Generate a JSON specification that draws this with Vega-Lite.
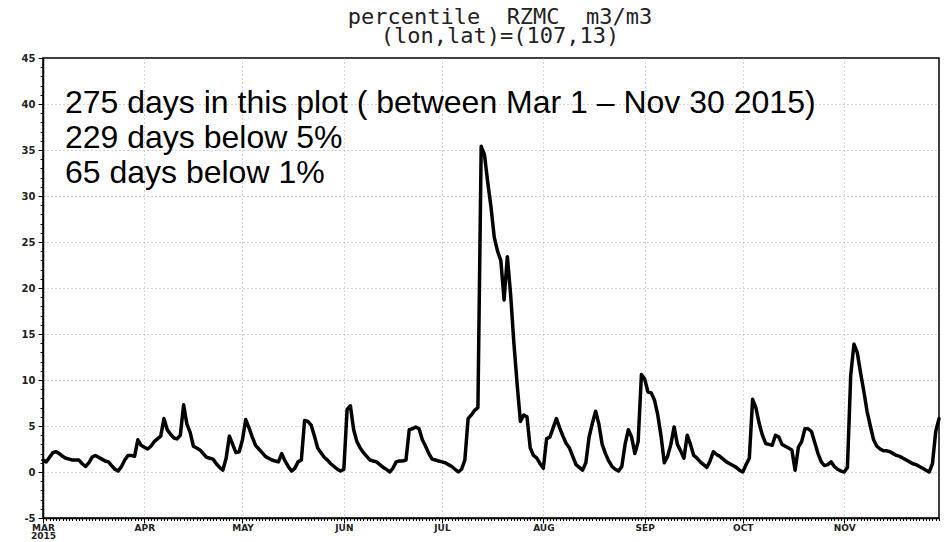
{
  "$schema": "https://vega.github.io/schema/vega-lite/v6.json",
  "width": 896,
  "height": 460,
  "autosize": {"type": "none"},
  "padding": {"left": 43, "top": 58, "right": 5, "bottom": 24},
  "background": "white",
  "config": {"view": {"stroke": "black", "strokeWidth": 1.5}},
  "title": {
    "text": ["percentile\u00a0\u00a0RZMC\u00a0\u00a0m3/m3", "(lon,lat)=(107,13)"],
    "font": "DejaVu Sans Mono",
    "fontSize": 22,
    "fontWeight": "normal",
    "lineHeight": 19,
    "anchor": "middle",
    "dx": 9,
    "offset": 5,
    "color": "#222"
  },
  "data": {
    "values": [
      {"date": "2015-03-01", "v": 1.3}, {"date": "2015-03-02", "v": 1.1}, {"date": "2015-03-03", "v": 1.6}, {"date": "2015-03-04", "v": 2.1},
      {"date": "2015-03-05", "v": 2.2}, {"date": "2015-03-06", "v": 2.0}, {"date": "2015-03-07", "v": 1.7}, {"date": "2015-03-08", "v": 1.5},
      {"date": "2015-03-09", "v": 1.4}, {"date": "2015-03-10", "v": 1.3}, {"date": "2015-03-11", "v": 1.3}, {"date": "2015-03-12", "v": 1.3},
      {"date": "2015-03-13", "v": 0.9}, {"date": "2015-03-14", "v": 0.6}, {"date": "2015-03-15", "v": 1.0}, {"date": "2015-03-16", "v": 1.6},
      {"date": "2015-03-17", "v": 1.8}, {"date": "2015-03-18", "v": 1.6}, {"date": "2015-03-19", "v": 1.4}, {"date": "2015-03-20", "v": 1.2},
      {"date": "2015-03-21", "v": 1.1}, {"date": "2015-03-22", "v": 0.7}, {"date": "2015-03-23", "v": 0.3}, {"date": "2015-03-24", "v": 0.1},
      {"date": "2015-03-25", "v": 0.6}, {"date": "2015-03-26", "v": 1.3}, {"date": "2015-03-27", "v": 1.8}, {"date": "2015-03-28", "v": 1.8},
      {"date": "2015-03-29", "v": 1.7}, {"date": "2015-03-30", "v": 3.5}, {"date": "2015-03-31", "v": 2.9},
      {"date": "2015-04-01", "v": 2.7}, {"date": "2015-04-02", "v": 2.5}, {"date": "2015-04-03", "v": 2.8}, {"date": "2015-04-04", "v": 3.3},
      {"date": "2015-04-05", "v": 3.6}, {"date": "2015-04-06", "v": 3.9}, {"date": "2015-04-07", "v": 5.8}, {"date": "2015-04-08", "v": 4.6},
      {"date": "2015-04-09", "v": 4.1}, {"date": "2015-04-10", "v": 3.7}, {"date": "2015-04-11", "v": 3.6}, {"date": "2015-04-12", "v": 4.0},
      {"date": "2015-04-13", "v": 7.3}, {"date": "2015-04-14", "v": 5.2}, {"date": "2015-04-15", "v": 4.3}, {"date": "2015-04-16", "v": 2.8},
      {"date": "2015-04-17", "v": 2.6}, {"date": "2015-04-18", "v": 2.4}, {"date": "2015-04-19", "v": 2.0}, {"date": "2015-04-20", "v": 1.6},
      {"date": "2015-04-21", "v": 1.5}, {"date": "2015-04-22", "v": 1.4}, {"date": "2015-04-23", "v": 0.9}, {"date": "2015-04-24", "v": 0.5},
      {"date": "2015-04-25", "v": 0.2}, {"date": "2015-04-26", "v": 1.5}, {"date": "2015-04-27", "v": 3.9}, {"date": "2015-04-28", "v": 3.0},
      {"date": "2015-04-29", "v": 2.1}, {"date": "2015-04-30", "v": 2.2},
      {"date": "2015-05-01", "v": 3.5}, {"date": "2015-05-02", "v": 5.7}, {"date": "2015-05-03", "v": 4.8}, {"date": "2015-05-04", "v": 3.8},
      {"date": "2015-05-05", "v": 2.9}, {"date": "2015-05-06", "v": 2.5}, {"date": "2015-05-07", "v": 2.1}, {"date": "2015-05-08", "v": 1.7},
      {"date": "2015-05-09", "v": 1.5}, {"date": "2015-05-10", "v": 1.3}, {"date": "2015-05-11", "v": 1.2}, {"date": "2015-05-12", "v": 1.1},
      {"date": "2015-05-13", "v": 2.0}, {"date": "2015-05-14", "v": 1.2}, {"date": "2015-05-15", "v": 0.6}, {"date": "2015-05-16", "v": 0.1},
      {"date": "2015-05-17", "v": 0.4}, {"date": "2015-05-18", "v": 1.1}, {"date": "2015-05-19", "v": 1.3}, {"date": "2015-05-20", "v": 5.6},
      {"date": "2015-05-21", "v": 5.5}, {"date": "2015-05-22", "v": 5.1}, {"date": "2015-05-23", "v": 3.9}, {"date": "2015-05-24", "v": 2.6},
      {"date": "2015-05-25", "v": 2.1}, {"date": "2015-05-26", "v": 1.6}, {"date": "2015-05-27", "v": 1.3}, {"date": "2015-05-28", "v": 0.9},
      {"date": "2015-05-29", "v": 0.6}, {"date": "2015-05-30", "v": 0.3}, {"date": "2015-05-31", "v": 0.1},
      {"date": "2015-06-01", "v": 0.3}, {"date": "2015-06-02", "v": 6.8}, {"date": "2015-06-03", "v": 7.2}, {"date": "2015-06-04", "v": 4.6},
      {"date": "2015-06-05", "v": 3.3}, {"date": "2015-06-06", "v": 2.6}, {"date": "2015-06-07", "v": 2.1}, {"date": "2015-06-08", "v": 1.7},
      {"date": "2015-06-09", "v": 1.3}, {"date": "2015-06-10", "v": 1.2}, {"date": "2015-06-11", "v": 1.1}, {"date": "2015-06-12", "v": 0.8},
      {"date": "2015-06-13", "v": 0.5}, {"date": "2015-06-14", "v": 0.3}, {"date": "2015-06-15", "v": 0.0}, {"date": "2015-06-16", "v": 0.4},
      {"date": "2015-06-17", "v": 1.1}, {"date": "2015-06-18", "v": 1.2}, {"date": "2015-06-19", "v": 1.2}, {"date": "2015-06-20", "v": 1.3},
      {"date": "2015-06-21", "v": 4.6}, {"date": "2015-06-22", "v": 4.7}, {"date": "2015-06-23", "v": 4.9}, {"date": "2015-06-24", "v": 4.7},
      {"date": "2015-06-25", "v": 3.5}, {"date": "2015-06-26", "v": 2.8}, {"date": "2015-06-27", "v": 2.0}, {"date": "2015-06-28", "v": 1.4},
      {"date": "2015-06-29", "v": 1.3}, {"date": "2015-06-30", "v": 1.2},
      {"date": "2015-07-01", "v": 1.1}, {"date": "2015-07-02", "v": 1.0}, {"date": "2015-07-03", "v": 0.8}, {"date": "2015-07-04", "v": 0.6},
      {"date": "2015-07-05", "v": 0.3}, {"date": "2015-07-06", "v": 0.0}, {"date": "2015-07-07", "v": 0.3}, {"date": "2015-07-08", "v": 1.3},
      {"date": "2015-07-09", "v": 5.8}, {"date": "2015-07-10", "v": 6.2}, {"date": "2015-07-11", "v": 6.7}, {"date": "2015-07-12", "v": 7.0},
      {"date": "2015-07-13", "v": 35.4}, {"date": "2015-07-14", "v": 34.5}, {"date": "2015-07-15", "v": 31.5}, {"date": "2015-07-16", "v": 28.8},
      {"date": "2015-07-17", "v": 25.5}, {"date": "2015-07-18", "v": 24.0}, {"date": "2015-07-19", "v": 23.0}, {"date": "2015-07-20", "v": 18.7},
      {"date": "2015-07-21", "v": 23.4}, {"date": "2015-07-22", "v": 19.3}, {"date": "2015-07-23", "v": 14.0}, {"date": "2015-07-24", "v": 9.5},
      {"date": "2015-07-25", "v": 5.5}, {"date": "2015-07-26", "v": 6.2}, {"date": "2015-07-27", "v": 6.0}, {"date": "2015-07-28", "v": 2.6},
      {"date": "2015-07-29", "v": 1.8}, {"date": "2015-07-30", "v": 1.5}, {"date": "2015-07-31", "v": 0.9},
      {"date": "2015-08-01", "v": 0.4}, {"date": "2015-08-02", "v": 3.6}, {"date": "2015-08-03", "v": 3.8}, {"date": "2015-08-04", "v": 4.8},
      {"date": "2015-08-05", "v": 5.8}, {"date": "2015-08-06", "v": 4.8}, {"date": "2015-08-07", "v": 3.9}, {"date": "2015-08-08", "v": 3.1},
      {"date": "2015-08-09", "v": 2.6}, {"date": "2015-08-10", "v": 1.7}, {"date": "2015-08-11", "v": 0.8}, {"date": "2015-08-12", "v": 0.5},
      {"date": "2015-08-13", "v": 0.2}, {"date": "2015-08-14", "v": 1.0}, {"date": "2015-08-15", "v": 3.8}, {"date": "2015-08-16", "v": 5.3},
      {"date": "2015-08-17", "v": 6.6}, {"date": "2015-08-18", "v": 5.2}, {"date": "2015-08-19", "v": 3.0}, {"date": "2015-08-20", "v": 2.0},
      {"date": "2015-08-21", "v": 1.2}, {"date": "2015-08-22", "v": 0.6}, {"date": "2015-08-23", "v": 0.3}, {"date": "2015-08-24", "v": 0.1},
      {"date": "2015-08-25", "v": 0.6}, {"date": "2015-08-26", "v": 3.0}, {"date": "2015-08-27", "v": 4.6}, {"date": "2015-08-28", "v": 3.8},
      {"date": "2015-08-29", "v": 2.0}, {"date": "2015-08-30", "v": 3.3}, {"date": "2015-08-31", "v": 10.6},
      {"date": "2015-09-01", "v": 10.1}, {"date": "2015-09-02", "v": 8.7}, {"date": "2015-09-03", "v": 8.6}, {"date": "2015-09-04", "v": 7.8},
      {"date": "2015-09-05", "v": 6.2}, {"date": "2015-09-06", "v": 3.9}, {"date": "2015-09-07", "v": 1.0}, {"date": "2015-09-08", "v": 1.7},
      {"date": "2015-09-09", "v": 3.0}, {"date": "2015-09-10", "v": 4.9}, {"date": "2015-09-11", "v": 3.0}, {"date": "2015-09-12", "v": 2.3},
      {"date": "2015-09-13", "v": 1.5}, {"date": "2015-09-14", "v": 4.0}, {"date": "2015-09-15", "v": 3.0}, {"date": "2015-09-16", "v": 1.8},
      {"date": "2015-09-17", "v": 1.5}, {"date": "2015-09-18", "v": 1.1}, {"date": "2015-09-19", "v": 0.8}, {"date": "2015-09-20", "v": 0.5},
      {"date": "2015-09-21", "v": 1.2}, {"date": "2015-09-22", "v": 2.2}, {"date": "2015-09-23", "v": 1.9}, {"date": "2015-09-24", "v": 1.7},
      {"date": "2015-09-25", "v": 1.4}, {"date": "2015-09-26", "v": 1.1}, {"date": "2015-09-27", "v": 0.9}, {"date": "2015-09-28", "v": 0.7},
      {"date": "2015-09-29", "v": 0.5}, {"date": "2015-09-30", "v": 0.2},
      {"date": "2015-10-01", "v": 0.0}, {"date": "2015-10-02", "v": 0.8}, {"date": "2015-10-03", "v": 1.5}, {"date": "2015-10-04", "v": 7.9},
      {"date": "2015-10-05", "v": 7.0}, {"date": "2015-10-06", "v": 5.3}, {"date": "2015-10-07", "v": 4.0}, {"date": "2015-10-08", "v": 3.1},
      {"date": "2015-10-09", "v": 3.0}, {"date": "2015-10-10", "v": 2.9}, {"date": "2015-10-11", "v": 4.0}, {"date": "2015-10-12", "v": 3.8},
      {"date": "2015-10-13", "v": 3.0}, {"date": "2015-10-14", "v": 2.8}, {"date": "2015-10-15", "v": 2.6}, {"date": "2015-10-16", "v": 2.4},
      {"date": "2015-10-17", "v": 0.2}, {"date": "2015-10-18", "v": 2.7}, {"date": "2015-10-19", "v": 3.3}, {"date": "2015-10-20", "v": 4.7},
      {"date": "2015-10-21", "v": 4.7}, {"date": "2015-10-22", "v": 4.4}, {"date": "2015-10-23", "v": 3.2}, {"date": "2015-10-24", "v": 2.0},
      {"date": "2015-10-25", "v": 1.1}, {"date": "2015-10-26", "v": 0.7}, {"date": "2015-10-27", "v": 0.8}, {"date": "2015-10-28", "v": 1.1},
      {"date": "2015-10-29", "v": 0.6}, {"date": "2015-10-30", "v": 0.3}, {"date": "2015-10-31", "v": 0.1},
      {"date": "2015-11-01", "v": 0.0}, {"date": "2015-11-02", "v": 0.5}, {"date": "2015-11-03", "v": 10.5}, {"date": "2015-11-04", "v": 13.9},
      {"date": "2015-11-05", "v": 13.0}, {"date": "2015-11-06", "v": 10.8}, {"date": "2015-11-07", "v": 8.8}, {"date": "2015-11-08", "v": 6.6},
      {"date": "2015-11-09", "v": 5.0}, {"date": "2015-11-10", "v": 3.5}, {"date": "2015-11-11", "v": 2.8}, {"date": "2015-11-12", "v": 2.5},
      {"date": "2015-11-13", "v": 2.3}, {"date": "2015-11-14", "v": 2.3}, {"date": "2015-11-15", "v": 2.2}, {"date": "2015-11-16", "v": 2.0},
      {"date": "2015-11-17", "v": 1.8}, {"date": "2015-11-18", "v": 1.7}, {"date": "2015-11-19", "v": 1.5}, {"date": "2015-11-20", "v": 1.3},
      {"date": "2015-11-21", "v": 1.1}, {"date": "2015-11-22", "v": 0.9}, {"date": "2015-11-23", "v": 0.8}, {"date": "2015-11-24", "v": 0.6},
      {"date": "2015-11-25", "v": 0.4}, {"date": "2015-11-26", "v": 0.2}, {"date": "2015-11-27", "v": 0.0}, {"date": "2015-11-28", "v": 0.9},
      {"date": "2015-11-29", "v": 4.4}, {"date": "2015-11-30", "v": 5.8}
    ]
  },
  "layer": [
    {
      "mark": {"type": "line", "color": "black", "strokeWidth": 3.5, "strokeJoin": "round", "strokeCap": "round"},
      "encoding": {
        "x": {
          "field": "date",
          "type": "temporal",
          "scale": {
            "type": "utc",
            "domain": [
              {"year": 2015, "month": 3, "date": 1, "utc": true},
              {"year": 2015, "month": 11, "date": 30, "utc": true}
            ]
          },
          "axis": {
            "title": null,
            "tickCount": {"interval": "day", "step": 1},
            "labelExpr": "utcdate(datum.value) == 1 ? (utcmonth(datum.value) == 2 ? [upper(utcFormat(datum.value, '%b')), '2015'] : upper(utcFormat(datum.value, '%b'))) : ''",
            "labelOverlap": false,
            "labelBound": false,
            "labelFlush": false,
            "labelFont": "DejaVu Sans",
            "labelFontSize": 9,
            "labelFontWeight": "bold",
            "labelColor": "#222",
            "labelPadding": 0,
            "labelLineHeight": 8,
            "grid": true,
            "gridColor": "#aaa",
            "gridDash": [1, 3],
            "gridOpacity": {"condition": {"test": "utcdate(datum.value) == 1", "value": 1}, "value": 0},
            "ticks": true,
            "tickColor": "black",
            "tickSize": {"condition": {"test": "utcdate(datum.value) == 1", "value": 5}, "value": 2.5},
            "domainColor": "black",
            "domainWidth": 1.5
          }
        },
        "y": {
          "field": "v",
          "type": "quantitative",
          "scale": {"domain": [-5, 45], "nice": false, "zero": false},
          "axis": {
            "title": null,
            "tickCount": 100,
            "values": [-5, -4, -3, -2, -1, 0, 1, 2, 3, 4, 5, 6, 7, 8, 9, 10, 11, 12, 13, 14, 15, 16, 17, 18, 19, 20, 21, 22, 23, 24, 25, 26, 27, 28, 29, 30, 31, 32, 33, 34, 35, 36, 37, 38, 39, 40, 41, 42, 43, 44, 45],
            "labelExpr": "datum.value % 5 == 0 ? toString(datum.value) : ''",
            "labelFont": "DejaVu Sans",
            "labelFontSize": 10,
            "labelFontWeight": "bold",
            "labelColor": "#222",
            "labelPadding": 3,
            "labelOverlap": false,
            "labelBound": false,
            "labelFlush": false,
            "grid": true,
            "gridColor": "#aaa",
            "gridDash": [1, 3],
            "gridOpacity": {"condition": {"test": "datum.value % 5 == 0 && datum.value > -5 && datum.value < 45", "value": 1}, "value": 0},
            "tickColor": "black",
            "tickSize": {"condition": {"test": "datum.value % 5 == 0", "value": 5}, "value": 3},
            "domainColor": "black",
            "domainWidth": 1.5
          }
        }
      }
    },
    {
      "data": {"values": [{}]},
      "mark": {
        "type": "text",
        "font": "Liberation Sans",
        "fontSize": 32,
        "align": "left",
        "baseline": "alphabetic",
        "lineHeight": 35,
        "color": "black"
      },
      "encoding": {
        "x": {"datum": {"year": 2015, "month": 3, "date": 7, "hours": 17, "utc": true}, "type": "temporal"},
        "y": {"datum": 39, "type": "quantitative"},
        "text": {"value": ["275 days in this plot ( between Mar 1 – Nov 30 2015)", "229 days below 5%", "65 days below 1%"]}
      }
    }
  ]
}
